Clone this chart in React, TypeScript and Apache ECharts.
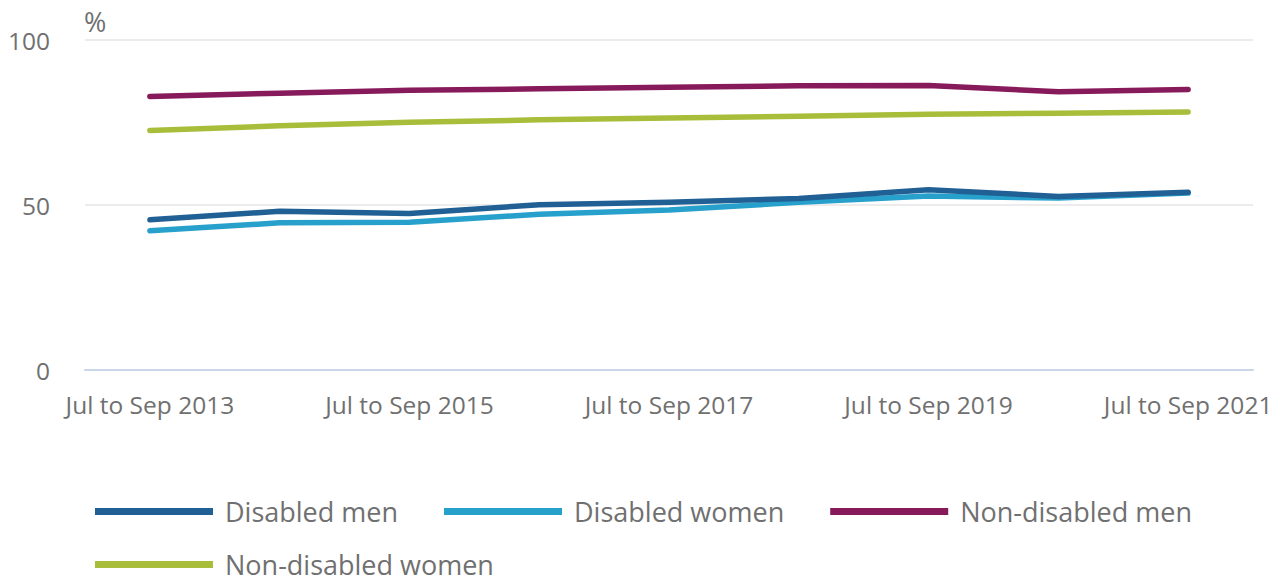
import React, { useEffect, useRef } from "react";
import * as echarts from "echarts";

const categories = [
  "Jul to Sep 2013",
  "Jul to Sep 2014",
  "Jul to Sep 2015",
  "Jul to Sep 2016",
  "Jul to Sep 2017",
  "Jul to Sep 2018",
  "Jul to Sep 2019",
  "Jul to Sep 2020",
  "Jul to Sep 2021",
];

const disabledMen = [45.5, 48.1, 47.4, 50.1, 50.8, 52.0, 54.6, 52.6, 53.9];
const disabledWomen = [42.2, 44.6, 44.8, 47.2, 48.5, 50.8, 52.7, 52.1, 53.6];
const nonDisabledMen = [82.9, 83.9, 84.8, 85.2, 85.7, 86.1, 86.2, 84.3, 85.0];
const nonDisabledWomen = [72.6, 74.0, 75.1, 75.8, 76.4, 76.9, 77.5, 77.8, 78.2];

const yTicks = [0, 50, 100];

const seriesNames = [
  "Disabled men",
  "Disabled women",
  "Non-disabled men",
  "Non-disabled women",
];
const seriesColors = ["#206095", "#27a0cc", "#871a5b", "#a8bd3a"];
const seriesData = [disabledMen, disabledWomen, nonDisabledMen, nonDisabledWomen];

const FONT = "'Open Sans', 'Noto Sans', sans-serif";
const TEXT = "#707070";

export default function App() {
  const ref = useRef<HTMLDivElement>(null);

  useEffect(() => {
    document.body.style.margin = "0";
    if (!ref.current) return;
    const chart = echarts.init(ref.current, undefined, { renderer: "svg" });
    chart.setOption({
      animation: false,
      textStyle: { fontFamily: FONT },
      grid: { left: 85, right: 27, top: 40, bottom: 209, containLabel: false },
      graphic: [
        {
          type: "text",
          left: 84,
          top: 8,
          style: { text: "%", font: `27px ${FONT}`, fill: TEXT },
        },
      ],
      legend: {
        left: 90,
        top: 493,
        width: 1150,
        itemWidth: 118,
        itemHeight: 7,
        itemGap: 26,
        icon: "rect",
        data: seriesNames,
        textStyle: {
          fontSize: 27,
          color: TEXT,
          fontFamily: FONT,
          lineHeight: 27,
          padding: [0, 20, 0, 7],
        },
      },
      xAxis: {
        type: "category",
        data: categories,
        boundaryGap: true,
        axisLine: { lineStyle: { color: "#ccd6eb", width: 2 } },
        axisTick: {
          alignWithLabel: true,
          interval: 1,
          length: 20,
          lineStyle: { color: "#ccd6eb", width: 1.5 },
        },
        axisLabel: {
          interval: 1,
          fontSize: 24.5,
          color: TEXT,
          fontFamily: FONT,
          margin: 22,
        },
      },
      yAxis: {
        type: "value",
        min: yTicks[0],
        max: yTicks[yTicks.length - 1],
        interval: 50,
        axisLine: { show: false },
        axisTick: { show: false },
        splitLine: { lineStyle: { color: "#e6e6e6", width: 1.5 } },
        axisLabel: {
          fontSize: 24.5,
          color: TEXT,
          fontFamily: FONT,
          margin: 35,
          verticalAlign: "middle",
          padding: [6, 0, 0, 0],
        },
      },
      series: seriesNames.map((name, i) => ({
        name,
        type: "line",
        data: seriesData[i],
        symbol: "none",
        color: seriesColors[i],
        lineStyle: { width: 5.5, color: seriesColors[i], cap: "round", join: "round" },
        z: i === 0 ? 3 : 2,
      })),
    });
    return () => chart.dispose();
  }, []);

  return <div ref={ref} style={{ width: 1280, height: 579 }} />;
}
